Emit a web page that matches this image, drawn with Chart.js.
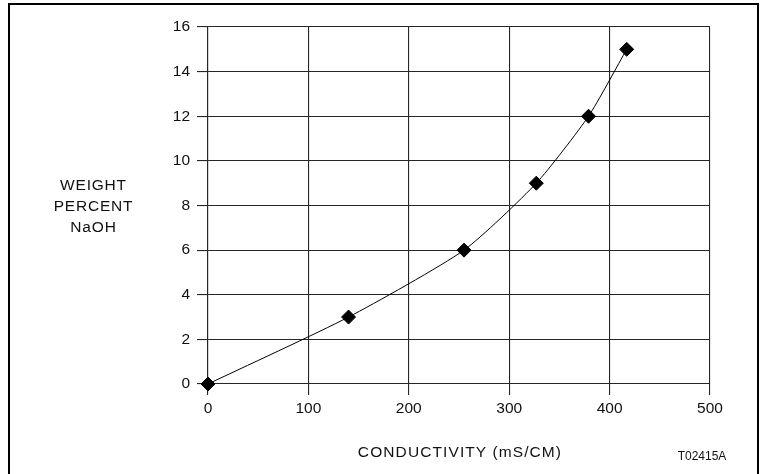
<!DOCTYPE html>
<html>
<head>
<meta charset="utf-8">
<script src="https://cdn.jsdelivr.net/npm/chart.js@4/dist/chart.umd.min.js"></script>
<style>
  body { margin: 0; background: #fff; overflow: hidden; }
  #wrap { position: relative; width: 761px; height: 474px; }
  #frame { position: absolute; left: 8px; top: 3px; width: 751px; height: 500px;
           box-sizing: border-box; border: 2px solid #000; pointer-events: none; }
  .lbl { position: absolute; font-family: "Liberation Sans", Arial, sans-serif;
         color: #111; text-align: center; white-space: nowrap; }
  #ylab { left: 33px; top: 174px; width: 121px; font-size: 15.5px; line-height: 21px; letter-spacing: 0.8px; }
  #xlab { left: 300px; top: 441px; width: 320px; font-size: 15.5px; line-height: 21px; letter-spacing: 1.1px; }
  #code { left: 652px; top: 449px; width: 100px; font-size: 12px; line-height: 14px; }
</style>
</head>
<body>
<div id="wrap">
  <canvas id="grafica" width="761" height="474"></canvas>
  <div id="frame"></div>
  <div class="lbl" id="ylab">WEIGHT<br>PERCENT<br>NaOH</div>
  <div class="lbl" id="xlab">CONDUCTIVITY (mS/CM)</div>
  <div class="lbl" id="code">T02415A</div>
</div>
<script>
// Datos
const conductividad = [0, 140, 255, 327, 379, 417];   // mS/CM
const porcentajeNaOH = [0, 3, 6, 9, 12, 15];         // % en peso
const ticksX = [0, 100, 200, 300, 400, 500];
const ticksY = [0, 2, 4, 6, 8, 10, 12, 14, 16];

const puntos = conductividad.map((x, i) => ({ x: x, y: porcentajeNaOH[i] }));

const fuenteTicks = { family: '"Liberation Sans", Arial, sans-serif', size: 15.5 };
const colorRejilla = '#262626';

new Chart(document.getElementById("grafica").getContext("2d"), {
    type: 'line',
    data: {
        datasets: [{
            data: puntos,
            borderColor: '#000',
            borderWidth: 1,
            tension: 0.2,
            pointStyle: 'rectRot',
            pointRadius: 7,
            pointBackgroundColor: '#000',
            pointBorderColor: '#000',
            pointBorderWidth: 1,
            clip: false
        }]
    },
    options: {
        responsive: false,
        animation: false,
        events: [],
        layout: { padding: { left: 0, right: 51, top: 27, bottom: 0 } },
        plugins: { legend: { display: false }, tooltip: { enabled: false } },
        scales: {
            x: {
                type: 'linear',
                min: ticksX[0],
                max: ticksX[ticksX.length - 1],
                afterBuildTicks: (s) => { s.ticks = ticksX.map(v => ({ value: v })); },
                afterFit: (s) => { s.height = 90; },
                ticks: { font: fuenteTicks, color: '#111', padding: 4, maxRotation: 0 },
                grid: { color: colorRejilla, lineWidth: 1.1, tickLength: 11 },
                border: { color: colorRejilla, width: 1.1 }
            },
            y: {
                type: 'linear',
                min: ticksY[0],
                max: ticksY[ticksY.length - 1],
                afterBuildTicks: (s) => { s.ticks = ticksY.map(v => ({ value: v })); },
                afterFit: (s) => { s.width = 208; },
                ticks: { font: fuenteTicks, color: '#111', padding: 7 },
                grid: { color: colorRejilla, lineWidth: 1.1, tickLength: 11 },
                border: { color: colorRejilla, width: 1.1 }
            }
        }
    }
});
</script>
</body>
</html>
